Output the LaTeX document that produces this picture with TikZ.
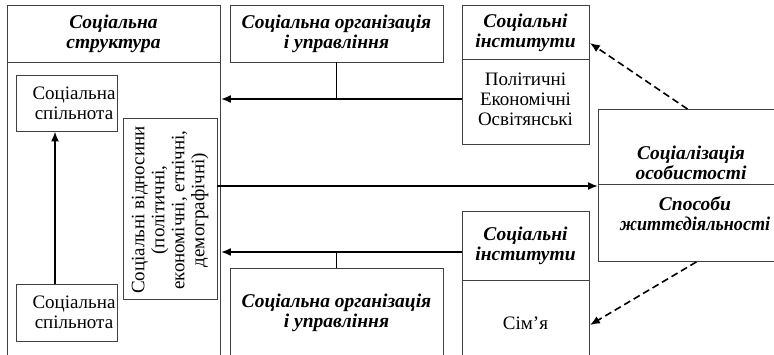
\documentclass[tikz,border=0pt]{standalone}
\usepackage{fontspec}
\setmainfont{Liberation Serif}
\usetikzlibrary{arrows.meta}
\newcommand\hdfont{\fontsize{19.5}{20}\selectfont\bfseries\itshape}
\newcommand\txfont{\fontsize{19}{20}\selectfont}
\tikzset{
  box/.style={draw=black!75, line width=0.9pt, inner sep=0pt},
  boxline/.style={draw=black!75, line width=0.9pt},
  hd/.style={font=\hdfont, align=center, inner sep=0pt},
  tx/.style={font=\txfont, align=center, inner sep=0pt},
  arr/.style={line width=1.8pt, -{Latex[length=10pt,width=8pt]}},
  thin/.style={line width=0.9pt},
  darr/.style={line width=1.6pt, dash pattern=on 7pt off 4pt, -{Latex[length=10pt,width=8pt]}},
}
\begin{document}
\begin{tikzpicture}[x=1pt,y=-1pt]
\useasboundingbox (0,0) rectangle (774,355);
\clip (0,0) rectangle (774,355);
\fill[white] (0,0) rectangle (774,355);
% helper coordinates
\coordinate (y43) at (0,43);
\coordinate (y99) at (0,99);
\coordinate (y186) at (0,186);
\coordinate (y252) at (0,252);
\coordinate (y325) at (0,325);
% left structure box
\node[box, minimum width=213pt, minimum height=370pt, anchor=north west] (struct) at (7,5) {};
\draw[boxline] (7,62) -- (220,62);
\node[hd] (structT) at (113.5,34) {Соціальна\\структура};
% communities
\node[box, minimum width=101pt, minimum height=56pt] (comm1) at (66.5,103) {};
\node[tx] (comm1T) at (74,103) {Соціальна\\спільнота};
\node[box, minimum width=101pt, minimum height=57pt] (comm2) at (66.5,312.5) {};
\node[tx] (comm2T) at (74,312.5) {Соціальна\\спільнота};
\draw[arr] ([xshift=-11.5pt]comm2.north) -- ([xshift=-11.5pt]comm1.south);
% relations
\node[box, minimum width=94pt, minimum height=181pt] (rel) at (170,208.5) {};
\node[tx, rotate=90] (relT) at (170,210) {Соціальні відносини\\(політичні,\\економічні, етнічні,\\демографічні)};
% top organisation
\node[box, minimum width=213pt, minimum height=57pt] (org1) at (336.5,33.5) {};
\node[hd] (org1T) at (336.5,34) {Соціальна організація\\і управління};
% top institutes
\node[box, minimum width=127pt, minimum height=139pt, anchor=north west] (inst1) at (462,5) {};
\draw[boxline] (462,59) -- (589,59);
\node[hd] (inst1T) at (525.5,32.5) {Соціальні\\інститути};
\node[tx] (inst1C) at (525.5,99) {Політичні\\Економічні\\Освітянські};
% bottom institutes
\node[box, minimum width=127pt, minimum height=170pt, anchor=north west] (inst2) at (462,211) {};
\draw[boxline] (462,280) -- (589,280);
\node[hd] (inst2T) at (525.5,245.5) {Соціальні\\інститути};
\node[tx] (inst2C) at (525.5,323) {Сім’я};
% bottom organisation
\node[box, minimum width=213pt, minimum height=110pt, anchor=north west] (org2) at (230,268) {};
\node[hd] (org2T) at (336.5,313) {Соціальна організація\\і управління};
% socialisation
\node[box, minimum width=188pt, minimum height=152pt, anchor=north west] (soc) at (598,109) {};
\draw[boxline] (598,184) -- (786,184);
\node[hd] (socT) at (691,163) {Соціалізація\\особистості};
\node[hd] (socB) at (695,214) {Способи\\\scalebox{0.93}[1]{життєдіяльності}};
% connectors
\draw[arr] (inst1.west |- y99) -- (struct.east |- y99);
\draw[thin] (org1.south) -- (org1.south |- y99);
\draw[arr] (inst2.west |- y252) -- (struct.east |- y252);
\draw[thin] (org2.north -| org1.south) -- (org1.south |- y252);
\draw[arr] (rel.east |- y186) -- (soc.west |- y186);
\draw[darr] ([xshift=-5pt]soc.north) -- (inst1.east |- y43);
\draw[darr] ([xshift=4pt]soc.south) -- (inst2.east |- y325);
\end{tikzpicture}
\end{document}
